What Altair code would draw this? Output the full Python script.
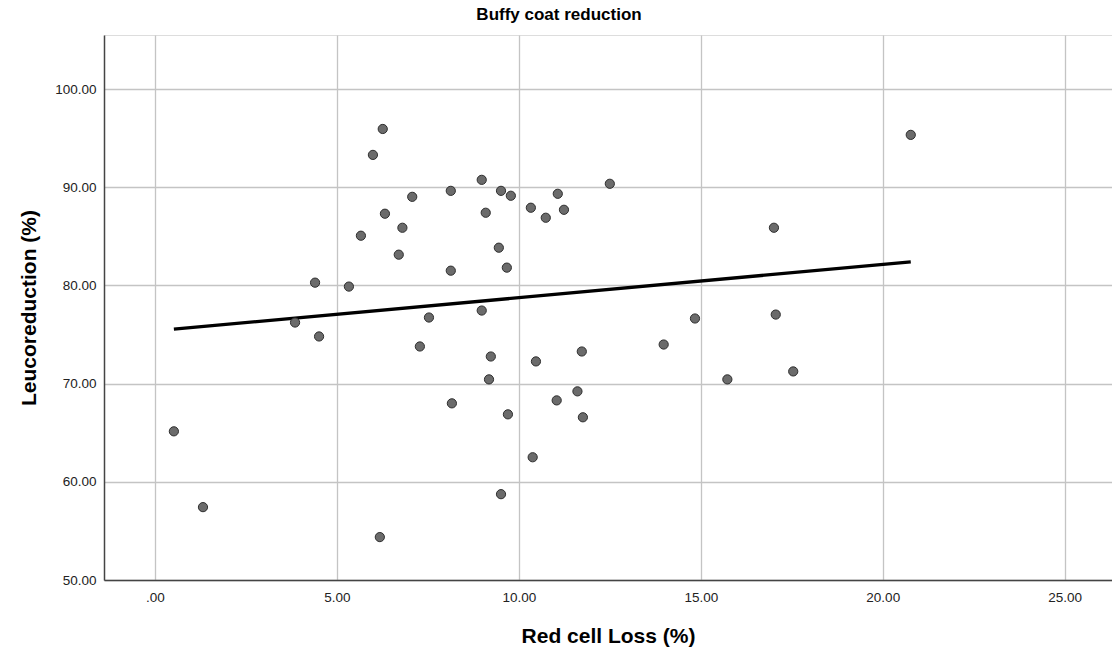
import altair as alt
import pandas as pd

# Red cell loss (%) and leucoreduction (%) per unit
red_cell_loss = [
    0.52, 1.32, 3.85, 4.40, 4.51, 5.33, 5.66, 5.99, 6.18, 6.26,
    6.32, 6.70, 6.80, 7.07, 7.28, 7.53, 8.13, 8.13, 8.16, 8.98,
    8.98, 9.09, 9.18, 9.23, 9.45, 9.51, 9.51, 9.67, 9.70, 9.78,
    10.33, 10.38, 10.47, 10.74, 11.04, 11.07, 11.24, 11.61, 11.73, 11.76,
    12.50, 13.98, 14.84, 15.73, 17.01, 17.06, 17.54, 20.77,
]
leucoreduction = [
    65.14, 57.42, 76.22, 80.28, 74.80, 79.88, 85.06, 93.29, 54.37, 95.93,
    87.30, 83.13, 85.87, 89.02, 73.78, 76.73, 89.63, 81.50, 67.99, 90.75,
    77.44, 87.40, 70.43, 72.76, 83.84, 89.63, 58.74, 81.81, 66.87, 89.13,
    87.91, 62.50, 72.26, 86.89, 68.29, 89.33, 87.70, 69.21, 73.27, 66.57,
    90.35, 73.98, 76.63, 70.43, 85.87, 77.03, 71.24, 95.33,
]

x_ticks = [0, 5, 10, 15, 20, 25]
y_ticks = [50, 60, 70, 80, 90, 100]

df = pd.DataFrame({"loss": red_cell_loss, "leuco": leucoreduction})

FONT = "Liberation Sans"
label_expr = "datum.value == 0 ? '.00' : format(datum.value, '.2f')"

axis_style = dict(
    labelExpr=label_expr,
    ticks=False,
    labelFont=FONT,
    labelFontSize=13.5,
    labelColor="#222222",
    titleFont=FONT,
    titleFontSize=21,
    titleFontWeight="bold",
    titleColor="#000000",
    gridColor="#c4c4c4",
    gridWidth=1.3,
    gridOpacity=1,
    domainColor="#444444",
    domainWidth=1.5,
)

x_enc = alt.X(
    "loss:Q",
    scale=alt.Scale(domain=[-1.4, 26.3], nice=False, zero=False),
    axis=alt.Axis(
        title="Red cell Loss (%)",
        values=x_ticks,
        labelPadding=10,
        titlePadding=22,
        **axis_style,
    ),
)
y_enc = alt.Y(
    "leuco:Q",
    scale=alt.Scale(domain=[50, 105.5], nice=False, zero=False),
    axis=alt.Axis(
        title="Leucoreduction (%)",
        values=y_ticks,
        labelPadding=8,
        titlePadding=15,
        **axis_style,
    ),
)

points = alt.Chart(df).mark_point(
    filled=True, shape="circle", size=85, color="#6b6b6b",
    stroke="#2e2e2e", strokeWidth=1, opacity=1,
).encode(x=x_enc, y=y_enc)

fit = alt.Chart(df).transform_regression(
    "loss", "leuco"
).mark_line(color="#000000", strokeWidth=3.3).encode(x=x_enc, y=y_enc)

chart = (
    alt.layer(fit, points)
    .properties(
        width=1008,
        height=545,
        title=alt.TitleParams(
            "Buffy coat reduction", fontSize=17, font=FONT, fontWeight="bold",
            color="#000000", anchor="middle", offset=11, dx=-49,
        ),
        autosize=alt.AutoSizeParams(type="none"),
        padding={"left": 104, "top": 35, "right": 0, "bottom": 67},
    )
    .configure_view(stroke=None)
    .configure(background="white")
)

chart.save("out.html", embed_options={"renderer": "svg", "actions": False})
